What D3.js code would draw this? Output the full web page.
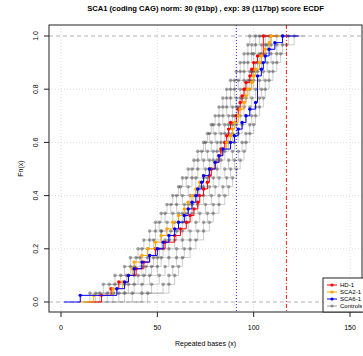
<!DOCTYPE html>
<html><head><meta charset="utf-8">
<script src="https://cdn.jsdelivr.net/npm/d3@7"></script>
<style>body{margin:0;background:#fff}svg{display:block}text{font-family:"Liberation Sans",Arial,sans-serif}</style>
</head><body><svg id="c" width="363" height="356"></svg>
<script>
const title = "SCA1 (coding CAG) norm: 30 (91bp) , exp: 39 (117bp) score ECDF";
const xTicks = [0, 50, 100, 150];
const yTicks = [0.0, 0.2, 0.4, 0.6, 0.8, 1.0];
const normLine = 91, expLine = 117;

const hd1 = [21,26,30,35,39,43,46,49,54,59,62,65,67,69,71,72,74,76,77,78,80,82,83,85,86,87,88,91,92,93,94,95,96,98,99,100,102,105,105,105];
const sca2 = [17,27,32,35,37,38,42,45,49,52,55,58,61,64,66,68,70,72,74,77,80,82,84,86,88,89,90,92,93,95,96,97,99,100,101,103,104,106,108,109];
const sca6 = [10,29,33,35,38,42,46,50,53,56,59,61,64,66,68,70,71,73,74,77,80,82,84,88,90,92,94,96,98,101,102,102,102,102,104,105,106,108,111,115];
const controls = [
 [15,22,28,33,36,40,43,46,49,52,55,58,61,63,66,69,71,74,76,78,80,82,84,86,88,91,93,95,97,98],
 [20,28,34,38,41,45,48,52,55,58,60,63,66,68,71,74,76,78,80,82,84,86,88,90,92,95,97,99,101,103],
 [24,33,38,42,45,49,52,52,59,61,64,67,70,70,75,77,79,81,83,85,87,89,91,93,95,98,100,100,104,106],
 [30,38,43,47,50,53,56,60,63,65,68,71,74,76,78,81,83,85,87,89,90,92,94,96,98,100,102,104,107,109],
 [33,42,46,50,52,56,59,63,66,68,71,74,77,79,81,83,85,87,89,91,93,95,96,98,100,102,104,106,109,112],
 [37,47,51,54,56,60,63,67,70,72,75,78,80,82,85,87,89,90,92,94,96,98,99,101,103,105,107,109,112,115],
 [42,53,56,58,60,64,67,71,74,76,79,82,84,86,88,90,92,94,96,98,99,101,103,104,106,108,110,112,115,118],
 [45,56,59,61,63,67,70,74,77,79,82,85,87,89,91,93,95,96,98,100,101,103,105,106,108,110,112,114,117,121],
 [18,25,31,36,39,42,46,49,51,54,57,60,62,65,68,71,73,75,77,79,82,84,86,88,90,93,95,97,99,101],
 [27,35,40,44,48,51,54,57,61,63,66,69,72,74,77,79,81,83,85,87,89,91,93,95,97,99,101,103,106,108]
];
const legendLabels = ["HD-1", "SCA2-1", "SCA6-1", "Controls"];
const colors = ["#ff0000", "#ffa500", "#0000ff", "rgba(90,90,90,0.6)"];

const svg = d3.select("#c");
const box = {l: 49, r: 362, t: 25, b: 312};
const x = d3.scaleLinear().domain([0, 150]).range([61, 350]);
const y = d3.scaleLinear().domain([0, 1]).range([302, 36]);

svg.append("text").attr("x", (box.l + box.r) / 2).attr("y", 11).attr("text-anchor", "middle")
  .attr("font-size", 7.6).attr("font-weight", "bold").text(title);

const clip = svg.append("defs").append("clipPath").attr("id", "pc");
clip.append("rect").attr("x", box.l).attr("y", box.t).attr("width", box.r - box.l).attr("height", box.b - box.t);
const g = svg.append("g").attr("clip-path", "url(#pc)");

g.selectAll(".gx").data(xTicks).join("line").attr("x1", d => x(d)).attr("x2", d => x(d))
  .attr("y1", box.t).attr("y2", box.b).attr("stroke", "#d3d3d3").attr("stroke-width", 0.8).attr("stroke-dasharray", "1,2");
g.selectAll(".gy").data(yTicks.filter(d => d > 0 && d < 1)).join("line").attr("y1", d => y(d)).attr("y2", d => y(d))
  .attr("x1", box.l).attr("x2", box.r).attr("stroke", "#d3d3d3").attr("stroke-width", 0.8).attr("stroke-dasharray", "1,2");
g.selectAll(".h01").data([0, 1]).join("line").attr("y1", d => y(d)).attr("y2", d => y(d))
  .attr("x1", box.l).attr("x2", box.r).attr("stroke", "#b3b3b3").attr("stroke-width", 1).attr("stroke-dasharray", "4,3");

function ecdf(vals) {
  const s = vals.slice().sort((a, b) => a - b);
  const n = s.length;
  const knots = Array.from(new Set(s));
  return knots.map(k => ({x: k, f: s.filter(v => v <= k).length / n}));
}
function drawEcdf(vals, lineCol, ptCol, lw, r) {
  const pts = ecdf(vals);
  const lo = pts[0].x, hi = pts[pts.length - 1].x;
  const dr = 0.08 * (hi - lo);
  const path = [[lo - dr, 0], [lo, 0]];
  pts.forEach((p, i) => {
    path.push([p.x, p.f]);
    if (i < pts.length - 1) path.push([pts[i + 1].x, p.f]);
  });
  path.push([hi + dr, 1]);
  g.append("path").attr("d", d3.line().x(d => x(d[0])).y(d => y(d[1]))(path))
    .attr("fill", "none").attr("stroke", lineCol).attr("stroke-width", lw);
  g.selectAll(null).data(pts).join("circle").attr("cx", d => x(d.x)).attr("cy", d => y(d.f))
    .attr("r", r).attr("fill", ptCol);
}
controls.forEach(c => drawEcdf(c, "rgba(0,0,0,0.22)", "rgba(60,60,60,0.45)", 0.9, 1.8));
drawEcdf(hd1, colors[0], colors[0], 1, 1.7);
drawEcdf(sca2, colors[1], colors[1], 1, 1.7);
drawEcdf(sca6, colors[2], colors[2], 1, 1.7);

g.append("line").attr("x1", x(normLine)).attr("x2", x(normLine)).attr("y1", box.t).attr("y2", box.b)
  .attr("stroke", "#0000ff").attr("stroke-width", 0.9).attr("stroke-dasharray", "1,2");
g.append("line").attr("x1", x(expLine)).attr("x2", x(expLine)).attr("y1", box.t).attr("y2", box.b)
  .attr("stroke", "#ff0000").attr("stroke-width", 0.9).attr("stroke-dasharray", "4,2,1,2");

svg.append("rect").attr("x", box.l).attr("y", box.t).attr("width", box.r - box.l).attr("height", box.b - box.t)
  .attr("fill", "none").attr("stroke", "#222").attr("stroke-width", 1);

xTicks.forEach(t => {
  svg.append("line").attr("x1", x(t)).attr("x2", x(t)).attr("y1", box.b).attr("y2", box.b + 5).attr("stroke", "#222");
  svg.append("text").attr("x", x(t)).attr("y", 330).attr("text-anchor", "middle").attr("font-size", 7).text(t);
});
svg.append("text").attr("x", (box.l + box.r) / 2).attr("y", 346).attr("text-anchor", "middle").attr("font-size", 7).text("Repeated bases (x)");

yTicks.forEach(t => {
  svg.append("line").attr("x1", box.l - 5).attr("x2", box.l).attr("y1", y(t)).attr("y2", y(t)).attr("stroke", "#222");
  svg.append("text").attr("transform", `translate(37.5,${y(t)}) rotate(-90)`).attr("text-anchor", "middle")
    .attr("font-size", 7).text(t.toFixed(1));
});
svg.append("text").attr("transform", `translate(23,${(box.t + box.b) / 2}) rotate(-90)`).attr("text-anchor", "middle")
  .attr("font-size", 7).text("Fn(x)");

const lg = svg.append("g");
lg.append("rect").attr("x", 323).attr("y", 278).attr("width", 45).attr("height", box.b - 278)
  .attr("fill", "#fff").attr("stroke", "#222").attr("stroke-width", 1);
legendLabels.forEach((lab, i) => {
  const yy = 285 + i * 7;
  lg.append("line").attr("x1", 327).attr("x2", 337).attr("y1", yy).attr("y2", yy).attr("stroke", colors[i]).attr("stroke-width", 1);
  lg.append("circle").attr("cx", 332).attr("cy", yy).attr("r", 1.6).attr("fill", colors[i]);
  lg.append("text").attr("x", 340).attr("y", yy + 2.2).attr("font-size", 6).text(lab);
});
</script></body></html>
